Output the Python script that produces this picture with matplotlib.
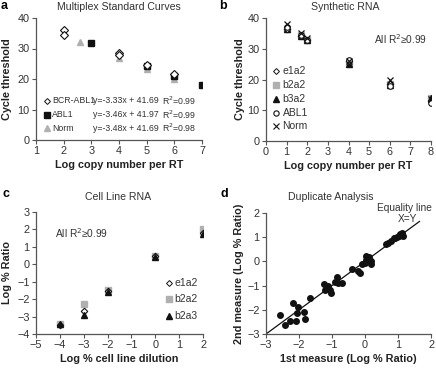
import matplotlib
matplotlib.use("Agg")
import matplotlib.pyplot as plt
import numpy as np

plt.rcParams['font.family'] = ['Liberation Sans', 'DejaVu Sans']
plt.rcParams['font.size'] = 7

W, H = 436, 368
GRAY = '#b0b0b0'
BLK = '#111111'
TXT = '#333333'

# ---------------- Data ----------------
# Panel a: Multiplex standard curves
a_bcr_x = [2, 2, 4, 4, 5, 6]
a_bcr_y = [36.1, 34.5, 28.5, 27.8, 24.5, 21.5]
a_abl_x = [3, 5, 6, 7]
a_abl_y = [31.7, 24.3, 21.0, 17.9]
a_norm_x = [2.6, 4, 5, 6]
a_norm_y = [32.0, 26.8, 23.4, 20.0]
a_labels = ['BCR-ABL1', 'ABL1', 'Norm']
a_eqs = ['y=-3.33x + 41.69', 'y=-3.46x + 41.97', 'y=-3.48x + 41.69']
a_r2 = ['R$^2$=0.99', 'R$^2$=0.99', 'R$^2$=0.98']

# Panel b: Synthetic RNA
b_x = [1, 1.7, 2, 4, 6, 8]
b_e1a2 = [36.5, 34.0, 33.0, 26.0, 18.5, 13.0]
b_b2a2 = [36.5, 34.5, 33.0, 25.5, 18.5, 14.0]
b_b3a2 = [36.5, 34.0, 32.8, 25.0, 18.3, 14.0]
b_abl1 = [37.0, 34.5, 33.0, 26.5, 18.0, 12.5]
b_norm = [38.0, 35.0, 33.5, 26.0, 20.0, 13.5]
b_labels = ['e1a2', 'b2a2', 'b3a2', 'ABL1', 'Norm']

# Panel c: Cell line RNA
c_x = [-4, -3, -2, 0, 2]
c_e1a2 = [-3.5, -2.7, -1.55, 0.45, 1.8]
c_b2a2 = [-3.4, -2.3, -1.5, 0.45, 2.05]
c_b2a3 = [-3.45, -2.9, -1.6, 0.4, 1.75]
c_labels = ['e1a2', 'b2a2', 'b2a3']

# Panel d: Duplicate analysis
d_x = [-2.58, -2.43, -2.28, -2.10, -2.17, -2.02, -2.07, -1.84, -1.82, -1.67,
       -1.24, -1.22, -1.12, -1.05, -1.04, -0.90, -0.85, -0.82, -0.70, -0.39,
       -0.21, -0.16, -0.09, -0.01, 0.04, 0.07, 0.11, 0.17, 0.19, 0.64,
       0.71, 0.79, 0.89, 0.97, 1.04, 1.07, 1.15, 1.11, -1.15, 0.02, 0.9]
d_y = [-2.21, -2.63, -2.45, -2.45, -1.73, -1.90, -2.15, -2.10, -2.38, -1.53,
       -0.93, -1.18, -1.00, -1.20, -1.32, -0.87, -0.66, -0.89, -0.89, -0.31,
       -0.38, -0.49, -0.11, -0.08, 0.24, 0.10, 0.17, 0.00, -0.11, 0.72,
       0.77, 0.83, 0.95, 0.99, 1.06, 1.13, 1.06, 1.16, -1.05, 0.05, 0.95]
d_line = [-3, 1.65]

# ---------------- Layout helpers ----------------
fig = plt.figure(figsize=(W / 100, H / 100), dpi=100)


def add_ax(l, r, t, b):
    return fig.add_axes([l / W, 1 - b / H, (r - l) / W, (b - t) / H])


def style(ax):
    for s in ['top', 'right']:
        ax.spines[s].set_visible(False)
    for s in ['left', 'bottom']:
        ax.spines[s].set_color('#555555')
        ax.spines[s].set_linewidth(0.9)
    ax.tick_params(direction='out', length=3, width=0.8, color='#555555',
                   labelsize=7.8, pad=1.5, labelcolor=TXT)


def ftext(x, y, s, **kw):
    fig.text(x / W, 1 - y / H, s, **kw)


lab_kw = dict(fontsize=7.8, fontweight='bold', color='#222222')

# ---------------- Panel a ----------------
ax = add_ax(36, 202, 18, 140)
style(ax)
ax.set_xlim(1, 7)
ax.set_ylim(0, 40)
ax.set_xticks(range(1, 8))
ax.set_yticks(range(0, 41, 10))
ax.plot(a_norm_x, a_norm_y, '^', color=GRAY, ms=5, mec=GRAY, zorder=2)
ax.plot(a_abl_x, a_abl_y, 's', color=BLK, ms=5, zorder=3)
ax.plot(a_bcr_x, a_bcr_y, 'D', mfc='white', mec=BLK, ms=3.6, mew=0.8, zorder=4)
ax.set_xlabel('Log copy number per RT', labelpad=3, **lab_kw)
ax.set_ylabel('Cycle threshold', labelpad=4, **lab_kw)
rows = [0.32, 0.205, 0.098]
mk = [dict(marker='D', mfc='white', mec=BLK, ms=3.0, mew=0.7),
      dict(marker='s', color=BLK, ms=4),
      dict(marker='^', color=GRAY, ms=4)]
for yr, m, lab, eq, r2 in zip(rows, mk, a_labels, a_eqs, a_r2):
    ax.plot([0.066], [yr], transform=ax.transAxes, ls='none', clip_on=False, **m)
    ax.text(0.096, yr, lab, transform=ax.transAxes, va='center', fontsize=6.3, color=TXT)
    ax.text(0.343, yr, eq, transform=ax.transAxes, va='center', fontsize=6.3, color=TXT)
    ax.text(0.759, yr, r2, transform=ax.transAxes, va='center', fontsize=6.3, color=TXT)
ftext(119, 7, 'Multiplex Standard Curves', ha='center', va='center', fontsize=7.6, color=TXT)
ftext(1, 6, 'a', ha='left', va='center', fontsize=9, fontweight='bold')

# ---------------- Panel b ----------------
ax = add_ax(266, 431, 18, 141)
style(ax)
ax.set_xlim(0, 8)
ax.set_ylim(0, 40)
ax.set_xticks(range(0, 9))
ax.set_yticks(range(0, 41, 10))
ax.plot(b_x, b_b2a2, 's', color=GRAY, ms=4.5, zorder=2)
ax.plot(b_x, b_b3a2, '^', color=BLK, ms=4.5, zorder=3)
ax.plot(b_x, b_e1a2, 'D', mfc='white', mec=BLK, ms=3.3, mew=0.8, zorder=4)
ax.plot(b_x, b_abl1, 'o', mfc='white', mec=BLK, ms=4, mew=0.8, zorder=4)
ax.plot(b_x, b_norm, 'x', color=BLK, ms=4.5, mew=0.9, zorder=5)
ax.set_xlabel('Log copy number per RT', labelpad=3, **lab_kw)
ax.set_ylabel('Cycle threshold', labelpad=2, **lab_kw)
rows = [0.569, 0.455, 0.343, 0.228, 0.118]
mk = [dict(marker='D', mfc='white', mec=BLK, ms=3.0, mew=0.7),
      dict(marker='s', color=GRAY, ms=4),
      dict(marker='^', color=BLK, ms=4),
      dict(marker='o', mfc='white', mec=BLK, ms=3.8, mew=0.8),
      dict(marker='x', color=BLK, ms=4, mew=0.8)]
for yr, m, lab in zip(rows, mk, b_labels):
    ax.plot([0.061], [yr], transform=ax.transAxes, ls='none', clip_on=False, **m)
    ax.text(0.1, yr, lab, transform=ax.transAxes, va='center', fontsize=7.5, color=TXT)
ax.text(0.655, 0.83, 'All R$^2$≥0.99', transform=ax.transAxes, va='center', fontsize=7.3, color=TXT)
ftext(345, 7, 'Synthetic RNA', ha='center', va='center', fontsize=7.6, color=TXT)
ftext(219, 6, 'b', ha='left', va='center', fontsize=9, fontweight='bold')

# ---------------- Panel c ----------------
ax = add_ax(36, 203, 212, 334)
style(ax)
ax.set_xlim(-5, 2)
ax.set_ylim(-4, 3)
ax.set_xticks(range(-5, 3))
ax.set_yticks(range(-4, 4))
ax.plot(c_x, c_b2a2, 's', color=GRAY, ms=4.5, zorder=2)
ax.plot(c_x, c_e1a2, 'D', mfc='white', mec=BLK, ms=3.3, mew=0.8, zorder=3)
ax.plot(c_x, c_b2a3, '^', color=BLK, ms=4.5, zorder=4)
ax.set_xlabel('Log % cell line dilution', labelpad=3, **lab_kw)
ax.set_ylabel('Log % Ratio', labelpad=4, **lab_kw)
rows = [0.418, 0.287, 0.148]
mk = [dict(marker='D', mfc='white', mec=BLK, ms=3.0, mew=0.7),
      dict(marker='s', color=GRAY, ms=4.5),
      dict(marker='^', color=BLK, ms=4.5)]
for yr, m, lab in zip(rows, mk, c_labels):
    ax.plot([0.796], [yr], transform=ax.transAxes, ls='none', clip_on=False, **m)
    ax.text(0.83, yr, lab, transform=ax.transAxes, va='center', fontsize=7.5, color=TXT)
ax.text(0.114, 0.828, 'All R$^2$≥0.99', transform=ax.transAxes, va='center', fontsize=7.3, color=TXT)
ftext(118, 197, 'Cell Line RNA', ha='center', va='center', fontsize=7.6, color=TXT)
ftext(2, 194, 'c', ha='left', va='center', fontsize=9, fontweight='bold')

# ---------------- Panel d ----------------
ax = add_ax(266, 431, 213, 334)
style(ax)
ax.set_xlim(-3, 2)
ax.set_ylim(-3, 2)
ax.set_xticks(range(-3, 3))
ax.set_yticks(range(-3, 3))
ax.plot(d_line, d_line, '-', color=BLK, lw=0.9, zorder=2)
ax.plot(d_x, d_y, 'o', color=BLK, ms=4, zorder=3)
ax.set_xlabel('1st measure (Log % Ratio)', labelpad=3, **lab_kw)
ax.set_ylabel('2nd measure (Log % Ratio)', labelpad=2, **lab_kw)
ftext(331, 197, 'Duplicate Analysis', ha='center', va='center', fontsize=7.6, color=TXT)
ftext(220, 194, 'd', ha='left', va='center', fontsize=9, fontweight='bold')
ftext(377, 208, 'Equality line', ha='left', va='center', fontsize=7.3, color=TXT)
ftext(407, 219, 'X=Y', ha='center', va='center', fontsize=7.3, color=TXT)

fig.savefig('out.png', dpi=100)
